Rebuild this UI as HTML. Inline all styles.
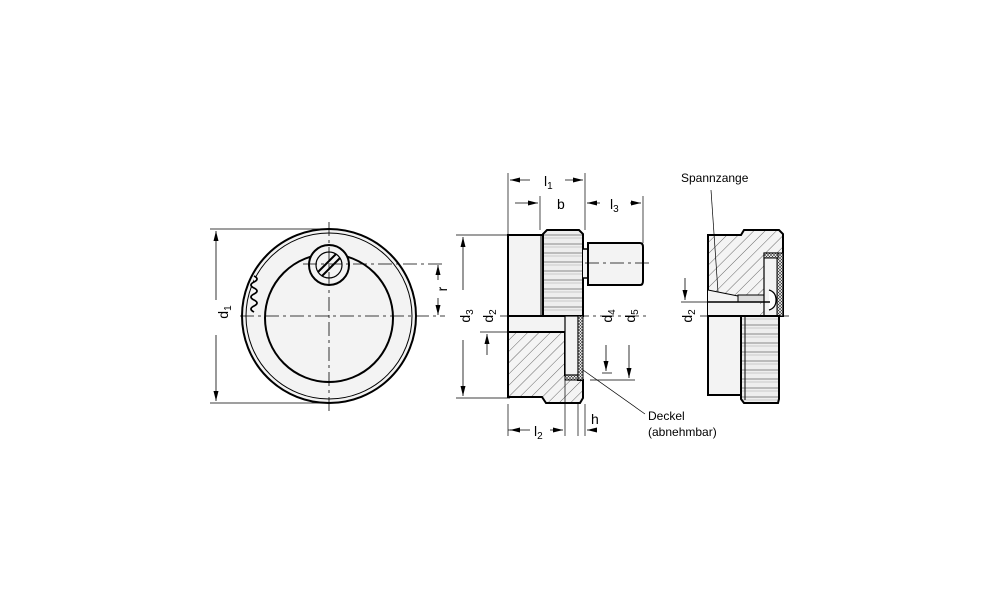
<!DOCTYPE html>
<html><head><style>
html,body{margin:0;padding:0;background:#fff;}
svg{display:block;}
text{font-family:"Liberation Sans",Arial,sans-serif;fill:#000;}
</style></head><body>
<svg width="1000" height="611" viewBox="0 0 1000 611" xmlns="http://www.w3.org/2000/svg">
<defs>
<pattern id="h" width="8" height="8" patternUnits="userSpaceOnUse" patternTransform="rotate(45)">
<rect width="8" height="8" fill="#f4f4f4"/><line x1="0" y1="0" x2="0" y2="8" stroke="#444" stroke-width="0.8"/>
</pattern>
<pattern id="x" width="3" height="3" patternUnits="userSpaceOnUse">
<rect width="3" height="3" fill="#fff"/><path d="M0 0L3 3M3 0L0 3" stroke="#333" stroke-width="0.6"/>
</pattern>
<pattern id="k" width="10" height="9" patternUnits="userSpaceOnUse">
<rect width="10" height="9" fill="#eee"/><line x1="0" y1="1" x2="10" y2="1" stroke="#888" stroke-width="1"/><line x1="0" y1="4" x2="10" y2="4" stroke="#bbb" stroke-width="0.7"/>
</pattern>
<marker id="a" markerWidth="10" markerHeight="6" refX="10" refY="3" orient="auto" markerUnits="userSpaceOnUse"><path d="M0 0.5L10 3L0 5.5z" fill="#000"/></marker>
</defs>
<g stroke="#000" fill="none">
<!-- LEFT VIEW -->
<circle cx="329" cy="316" r="87" fill="#f3f3f3" stroke-width="2"/>
<circle cx="329" cy="316" r="83" stroke-width="1"/>
<circle cx="329" cy="318" r="64" fill="#f3f3f3" stroke-width="2"/>
<circle cx="329" cy="265" r="20" fill="#f3f3f3" stroke-width="2"/>
<circle cx="329" cy="265" r="13" stroke-width="1.2"/>
<path d="M318 272L336 254M322 276L340 258" stroke-width="2"/>
<path d="M254 276q6 3 0 6q-6 3 0 6q6 3 0 6q-6 3 0 6q6 3 0 6q-6 3 0 6" stroke-width="1.8" fill="#fff"/>
<path d="M240 316H445M329 222V412M303 264H445" stroke-width="0.8" stroke-dasharray="14 4 3 4"/>
<path d="M210 229H330M210 403H330" stroke-width="0.8"/>
<path d="M216 300V231" marker-end="url(#a)" stroke-width="0.8"/>
<path d="M216 335V401" marker-end="url(#a)" stroke-width="0.8"/>
<path d="M438 280V265" marker-end="url(#a)" stroke-width="0.8"/>
<path d="M438 298V315" marker-end="url(#a)" stroke-width="0.8"/>
<!-- MIDDLE VIEW -->
<rect x="508" y="235" width="35" height="81" fill="#f3f3f3" stroke-width="2"/>
<path d="M541 316V235" stroke-width="1"/>
<path d="M543 316V234L547 230H579L583 234V316Z" fill="url(#k)" stroke-width="2"/>
<path d="M583 249H588V278H583" fill="#f3f3f3" stroke-width="1.5"/>
<path d="M588 243H640Q643 243 643 247V281Q643 285 640 285H588Z" fill="#f3f3f3" stroke-width="2"/>
<rect x="508" y="316" width="57" height="16" fill="#f3f3f3" stroke="none"/>
<path d="M508 332H565V375H578V380H583V398L580 403H546L542 397H508Z" fill="url(#h)" stroke-width="2"/>
<rect x="565" y="316" width="13" height="59" fill="#f3f3f3" stroke-width="1.2"/>
<rect x="565" y="375" width="13" height="5" fill="url(#x)" stroke-width="1"/>
<rect x="578" y="316" width="5" height="64" fill="url(#x)" stroke-width="1"/>
<path d="M508 316V398M583 380V398M508 316H565" stroke-width="2"/>
<path d="M500 316H650M585 263H650" stroke-width="0.8" stroke-dasharray="14 4 3 4"/>
<!-- dims middle -->
<path d="M508 173V235M585 173V230M540 196V230M643 196V243M508 404V436M565 380V436M578 404V436M585 404V436" stroke-width="0.7"/>
<path d="M530 180H510" marker-end="url(#a)" stroke-width="0.8"/>
<path d="M565 180H583" marker-end="url(#a)" stroke-width="0.8"/>
<path d="M515 203H538" marker-end="url(#a)" stroke-width="0.8"/>
<path d="M600 203H587" marker-end="url(#a)" stroke-width="0.8"/>
<path d="M630 203H641" marker-end="url(#a)" stroke-width="0.8"/>
<path d="M508 430H530" stroke-width="0.8"/><path d="M520 430H510" marker-end="url(#a)" stroke-width="0.8"/>
<path d="M550 430H563" marker-end="url(#a)" stroke-width="0.8"/>
<path d="M595 430H587" marker-end="url(#a)" stroke-width="0.8"/>
<path d="M456 235H520M456 398H510M602 373H612M590 380H635" stroke-width="0.7"/>
<path d="M463 290V237" marker-end="url(#a)" stroke-width="0.8"/>
<path d="M463 340V396" marker-end="url(#a)" stroke-width="0.8"/>
<path d="M480 332H512" stroke-width="0.7"/>
<path d="M487 355V334" marker-end="url(#a)" stroke-width="0.8"/>
<path d="M606 345V371" marker-end="url(#a)" stroke-width="0.8"/>
<path d="M629 345V378" marker-end="url(#a)" stroke-width="0.8"/>
<path d="M583 370L645 414" stroke-width="0.7"/>
<!-- RIGHT VIEW -->
<path d="M708 235H741L744 230H779L783 234V316H708Z" fill="url(#h)" stroke-width="2"/>
<path d="M708 290L738 296H760V316H708Z" fill="#f3f3f3" stroke="none"/>
<path d="M708 290L738 296" stroke-width="1"/>
<rect x="738" y="295" width="28" height="7" fill="#ddd" stroke-width="1"/>
<rect x="764" y="253" width="14" height="63" fill="#f3f3f3" stroke-width="1.2"/>
<rect x="777" y="253" width="6" height="63" fill="url(#x)" stroke-width="1"/>
<rect x="764" y="253" width="14" height="5" fill="url(#x)" stroke-width="1"/>
<path d="M769 290Q776 292 776 300Q776 308 769 310" fill="#fff" stroke-width="1.2"/>
<path d="M708 302H770" stroke-width="1.5"/>
<path d="M708 316V395H741V316Z" fill="#f3f3f3" stroke-width="2"/>
<path d="M741 316V399L744 403H778L779 399V316Z" fill="url(#k)" stroke-width="2"/>
<path d="M745 316V400" stroke-width="1"/>
<path d="M700 316H790" stroke-width="0.8" stroke-dasharray="14 4 3 4"/>
<path d="M681 302H708" stroke-width="0.7"/>
<path d="M685 278V300" marker-end="url(#a)" stroke-width="0.8"/>
<path d="M711 190L718 292" stroke-width="0.7"/>
</g>
<g font-size="14">
<text x="226" y="322" transform="rotate(-90 222 316)" text-anchor="middle">d<tspan font-size="10" dy="3">1</tspan></text>
<text x="443" y="293" transform="rotate(-90 443 289)" text-anchor="middle">r</text>
<text x="544" y="186">l<tspan font-size="10" dy="3">1</tspan></text>
<text x="557" y="209">b</text>
<text x="610" y="209">l<tspan font-size="10" dy="3">3</tspan></text>
<text x="534" y="436">l<tspan font-size="10" dy="3">2</tspan></text>
<text x="591" y="424">h</text>
<text transform="translate(470 316) rotate(-90)" text-anchor="middle">d<tspan font-size="10" dy="3">3</tspan></text>
<text transform="translate(493 316) rotate(-90)" text-anchor="middle">d<tspan font-size="10" dy="3">2</tspan></text>
<text transform="translate(612 316) rotate(-90)" text-anchor="middle">d<tspan font-size="10" dy="3">4</tspan></text>
<text transform="translate(635 316) rotate(-90)" text-anchor="middle">d<tspan font-size="10" dy="3">5</tspan></text>
<text transform="translate(692 316) rotate(-90)" text-anchor="middle">d<tspan font-size="10" dy="3">2</tspan></text>
</g>
<g font-size="12">
<text x="648" y="420">Deckel</text>
<text x="648" y="436">(abnehmbar)</text>
<text x="681" y="182">Spannzange</text>
</g>
</svg>
</body></html>
